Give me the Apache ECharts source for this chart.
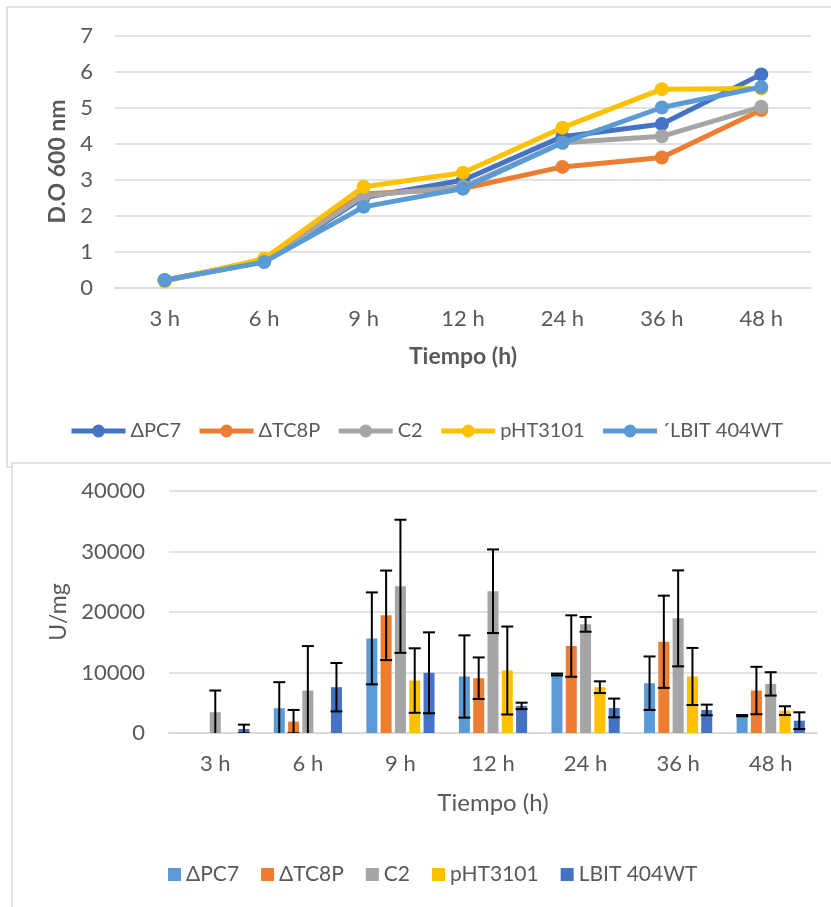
<!DOCTYPE html>
<html>
<head>
<meta charset="utf-8">
<script src="https://cdn.jsdelivr.net/npm/echarts@6/dist/echarts.min.js"></script>
<style>
html,body{margin:0;padding:0;background:#fff;}
#c{width:831px;height:907px;}
</style>
</head>
<body>
<div id="c"></div>
<script>
// ---------- data ----------
const categories = ['3 h', '6 h', '9 h', '12 h', '24 h', '36 h', '48 h'];

// Top chart: D.O 600 nm
const odNames = ['ΔPC7', 'ΔTC8P', 'C2', 'pHT3101', '´LBIT 404WT'];
const odPC7    = [0.20, 0.72, 2.50, 2.98, 4.19, 4.54, 5.92];
const odTC8P   = [0.20, 0.75, 2.60, 2.75, 3.35, 3.61, 4.93];
const odC2     = [0.20, 0.74, 2.55, 2.80, 4.02, 4.20, 5.02];
const odPHT    = [0.17, 0.80, 2.80, 3.19, 4.44, 5.51, 5.53];
const odLBIT   = [0.20, 0.71, 2.24, 2.75, 4.02, 5.00, 5.57];
const odTicks  = [0, 1, 2, 3, 4, 5, 6, 7];

// Bottom chart: U/mg
const actNames = ['ΔPC7', 'ΔTC8P', 'C2', 'pHT3101', 'LBIT 404WT'];
const actPC7   = [null, 4090, 15640, 9340, 9670, 8230, 2870];
const actTC8P  = [null, 1880, 19450, 9060, 14370, 15080, 7020];
const actC2    = [3430, 7020, 24250, 23430, 17960, 18950, 8120];
const actPHT   = [null, null, 8670, 10330, 7570, 9340, 3700];
const actLBIT  = [660, 7570, 9950, 4480, 4140, 3810, 2040];
const errPC7   = [null, 4310, 7600, 6800, 150, 4420, 100];
const errTC8P  = [null, 1930, 7400, 3430, 5080, 7620, 3920];
const errC2    = [3590, 7350, 11000, 6910, 1220, 7930, 1930];
const errPHT   = [null, null, 5330, 7270, 970, 4720, 720];
const errLBIT  = [720, 4000, 6690, 530, 1550, 880, 1380];
const actTicks = [0, 10000, 20000, 30000, 40000];

// ---------- styling ----------
const FONT = 'Lato';
const TXT = '#595959';
const GRID = '#d9d9d9';
const lineColors = ['#4472C4', '#ED7D31', '#A5A5A5', '#FFC000', '#5B9BD5'];
const barColors  = ['#5B9BD5', '#ED7D31', '#A5A5A5', '#FFC000', '#4472C4'];
const BAR_W = 11, BAR_GAP = 0.3;

const odSeriesData = [odPC7, odTC8P, odC2, odPHT, odLBIT];
const actSeriesData = [actPC7, actTC8P, actC2, actPHT, actLBIT];
const errSeriesData = [errPC7, errTC8P, errC2, errPHT, errLBIT];

const series = [];
odSeriesData.forEach((d, i) => {
  series.push({
    type: 'line', name: odNames[i], xAxisIndex: 0, yAxisIndex: 0,
    data: d, symbol: 'circle', symbolSize: 14,
    lineStyle: {width: 5, color: lineColors[i]},
    itemStyle: {color: lineColors[i]},
    z: 2 + i
  });
});
actSeriesData.forEach((d, i) => {
  series.push({
    type: 'bar', name: 'bar_' + actNames[i], xAxisIndex: 1, yAxisIndex: 1,
    data: d, barWidth: BAR_W, barGap: (BAR_GAP * 100) + '%',
    itemStyle: {color: barColors[i]}
  });
});
const nBars = actSeriesData.length;
errSeriesData.forEach((errs, i) => {
  const data = [];
  errs.forEach((e, k) => {
    if (e != null && actSeriesData[i][k] != null) data.push([k, actSeriesData[i][k], e]);
  });
  series.push({
    type: 'custom', name: 'err_' + actNames[i], xAxisIndex: 1, yAxisIndex: 1,
    clip: true, z: 10, silent: true,
    data: data,
    encode: {x: 0, y: 1},
    renderItem: function (params, api) {
      const k = api.value(0), v = api.value(1), e = api.value(2);
      const step = BAR_W * (1 + BAR_GAP);
      const total = nBars * BAR_W + (nBars - 1) * BAR_W * BAR_GAP;
      const off = -total / 2 + i * step + BAR_W / 2;
      const hi = api.coord([k, v + e]);
      const lo = api.coord([k, v - e]);
      const x = hi[0] + off;
      const cap = 6;
      const st = {stroke: '#000', lineWidth: 2};
      return {
        type: 'group',
        children: [
          {type: 'line', shape: {x1: x, y1: hi[1], x2: x, y2: lo[1]}, style: st},
          {type: 'line', shape: {x1: x - cap, y1: hi[1], x2: x + cap, y2: hi[1]}, style: st},
          {type: 'line', shape: {x1: x - cap, y1: lo[1], x2: x + cap, y2: lo[1]}, style: st}
        ]
      };
    }
  });
});

const plainNum = v => String(v);

const chart = echarts.init(document.getElementById('c'), null, {renderer: 'canvas'});
chart.setOption({
  animation: false,
  backgroundColor: '#fff',
  textStyle: {fontFamily: FONT},
  graphic: [
    {type: 'rect', z: -100, shape: {x: 7, y: 7, width: 900, height: 460},
     style: {fill: '#fff', stroke: GRID, lineWidth: 1.5}},
    {type: 'rect', z: -99, shape: {x: 12, y: 463, width: 900, height: 500},
     style: {fill: '#fff', stroke: GRID, lineWidth: 1.5}}
  ],
  legend: [
    {
      data: odNames, left: 69, top: 421, padding: 0,
      itemWidth: 54, itemHeight: 16, itemGap: 16,
      lineStyle: {width: 5},
      textStyle: {fontFamily: FONT, fontSize: 20, color: TXT}
    },
    {
      data: actNames.map((n, i) => ({name: 'bar_' + n, itemStyle: {color: barColors[i]}})),
      formatter: n => n.replace('bar_', ''),
      left: 168, top: 864, padding: 0, itemWidth: 13, itemHeight: 13, itemGap: 22,
      icon: 'rect',
      textStyle: {fontFamily: FONT, fontSize: 21, color: TXT}
    }
  ],
  grid: [
    {left: 115, right: 20, top: 35.5, height: 252},
    {left: 169, right: 14, top: 491, height: 242}
  ],
  xAxis: [
    {
      type: 'category', gridIndex: 0, data: categories,
      axisLine: {lineStyle: {color: GRID, width: 1.5}}, axisTick: {show: false},
      axisLabel: {fontFamily: FONT, fontSize: 22, color: TXT, margin: 20},
      name: 'Tiempo (h)', nameLocation: 'middle', nameGap: 58,
      nameTextStyle: {fontFamily: FONT, fontSize: 23, fontWeight: 'bold', color: TXT}
    },
    {
      type: 'category', gridIndex: 1, data: categories,
      axisLine: {lineStyle: {color: GRID, width: 2}}, axisTick: {show: false},
      axisLabel: {fontFamily: FONT, fontSize: 22, color: TXT, margin: 20},
      name: 'Tiempo (h)', nameLocation: 'middle', nameGap: 58,
      nameTextStyle: {fontFamily: FONT, fontSize: 24, color: TXT}
    }
  ],
  yAxis: [
    {
      type: 'value', gridIndex: 0, min: odTicks[0], max: odTicks[odTicks.length - 1], interval: 1,
      axisLine: {show: false}, axisTick: {show: false},
      splitLine: {lineStyle: {color: GRID, width: 1.5}},
      axisLabel: {fontFamily: FONT, fontSize: 22, color: TXT, margin: 22, formatter: plainNum},
      name: 'D.O 600 nm', nameLocation: 'middle', nameGap: 46,
      nameTextStyle: {fontFamily: FONT, fontSize: 23, fontWeight: 'bold', color: TXT}
    },
    {
      type: 'value', gridIndex: 1, min: actTicks[0], max: actTicks[actTicks.length - 1], interval: 10000,
      axisLine: {show: false}, axisTick: {show: false},
      splitLine: {lineStyle: {color: GRID, width: 1.5}},
      axisLabel: {fontFamily: FONT, fontSize: 22, color: TXT, margin: 24, formatter: plainNum},
      name: 'U/mg', nameLocation: 'middle', nameGap: 95,
      nameTextStyle: {fontFamily: FONT, fontSize: 23, color: TXT}
    }
  ],
  series: series
});
</script>
</body>
</html>
